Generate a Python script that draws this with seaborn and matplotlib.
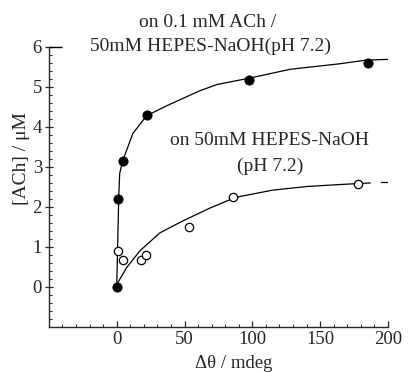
import pandas as pd
import matplotlib.pyplot as plt
import seaborn as sns

# measured points, ACh in HEPES buffer (filled) and buffer only (open)
ach_x = [0, 1, 4.4, 22, 97.5, 185]
ach_y = [0, 2.2, 3.15, 4.3, 5.17, 5.6]
buf_x = [1, 4.4, 17.7, 21.4, 53, 85.6, 178]
buf_y = [0.9, 0.68, 0.68, 0.8, 1.5, 2.25, 2.58]

# fitted curves
ach_fit_x = [0, 1.5, 2.2, 4.4, 11.8, 22, 37, 61, 74, 98, 128, 165, 184, 203]
ach_fit_y = [0, 2.27, 2.84, 3.15, 3.83, 4.28, 4.53, 4.9, 5.06, 5.22, 5.44, 5.58, 5.67, 5.69]
buf_fit_x = [0.7, 7.4, 17, 31.7, 48.7, 68.6, 85.6, 90.8, 115, 140, 164.6, 187]
buf_fit_y = [0.1, 0.49, 0.9, 1.35, 1.65, 1.97, 2.21, 2.26, 2.42, 2.51, 2.56, 2.6]
buf_tail_x = [195, 199]
buf_tail_y = [2.63, 2.63]

sns.set_style("ticks")
plt.rcParams['font.family'] = ['Liberation Serif', 'DejaVu Serif']

fig = plt.figure(figsize=(4.11, 3.72), dpi=100)
ax = fig.add_axes([0.119, 0.121, 0.825, 0.753])

sns.lineplot(x=ach_fit_x, y=ach_fit_y, sort=False, color='black', linewidth=0.9, ax=ax)
sns.lineplot(x=buf_fit_x, y=buf_fit_y, sort=False, color='black', linewidth=0.9, ax=ax)
sns.lineplot(x=buf_tail_x, y=buf_tail_y, sort=False, color='black', linewidth=0.9, ax=ax)
sns.scatterplot(x=ach_x, y=ach_y, color='black', s=45, edgecolor='black', zorder=5, ax=ax)
sns.scatterplot(x=buf_x, y=buf_y, color='white', s=36, edgecolor='black', linewidth=0.9,
                zorder=5, ax=ax)

ax.set_xlim(-50, 200)
ax.set_ylim(-1, 6)
ax.set_xticks([0, 50, 100, 150, 200])
ax.set_yticks([0, 1, 2, 3, 4, 5, 6])
ax.set_xticks(range(-50, 201, 10), minor=True)
ax.set_yticks([i * 0.2 - 1 for i in range(36)], minor=True)
ax.tick_params(axis='both', which='major', direction='in', length=4, width=0.9,
               labelsize=13.5, pad=3)
ax.tick_params(axis='y', which='major', direction='inout', length=6, pad=2)
ax.tick_params(axis='both', which='minor', direction='in', length=2, width=0.7)
for s in ['top', 'right']:
    ax.spines[s].set_visible(False)
for s in ['left', 'bottom']:
    ax.spines[s].set_linewidth(1.0)
ax.hlines(6, -50, -40, color='black', linewidth=1.0, clip_on=False)

ax.set_xlabel('Δθ / mdeg', fontsize=13.5)
ax.xaxis.set_label_coords(0.546, -0.1)
ax.set_ylabel('[ACh] / μM', fontsize=14)
ax.yaxis.set_label_coords(-0.055, 0.6)

ax.text(67, 6.62, 'on 0.1 mM ACh /', fontsize=14, ha='center', va='center')
ax.text(69, 6.02, '50mM HEPES-NaOH(pH 7.2)', fontsize=14, ha='center', va='center')
ax.text(113, 3.67, 'on 50mM HEPES-NaOH', fontsize=14, ha='center', va='center')
ax.text(113, 3.02, '(pH 7.2)', fontsize=14, ha='center', va='center')

fig.savefig('out.png', dpi=100)
